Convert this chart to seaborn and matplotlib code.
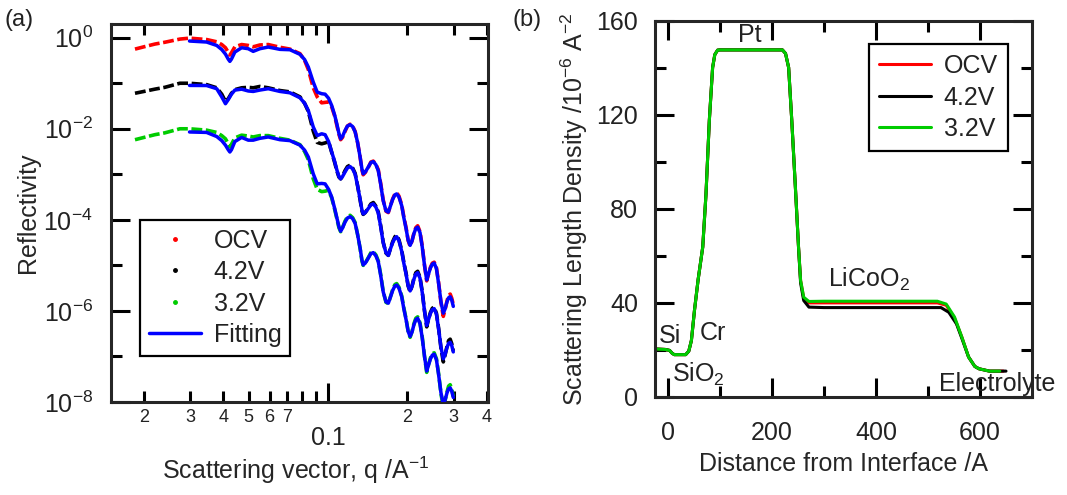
import numpy as np
import pandas as pd
import seaborn as sns
import matplotlib.pyplot as plt
from matplotlib.lines import Line2D
from matplotlib.ticker import FixedLocator, FixedFormatter, NullFormatter, LogFormatterSciNotation

# ---- (a) reflectivity (log10 R) ----
q_fit = [0.0298, 0.0346, 0.0378, 0.0395, 0.0408, 0.0418, 0.0424, 0.043, 0.0443, 0.047,
         0.0498, 0.052, 0.0551, 0.0593, 0.0657, 0.0717, 0.0783, 0.0815, 0.0842, 0.0879,
         0.091, 0.0946, 0.0975, 0.1005, 0.1033, 0.106, 0.108, 0.110, 0.1117, 0.1135,
         0.116, 0.1185, 0.1213, 0.124, 0.1268, 0.1295, 0.1324, 0.1345, 0.136, 0.1385,
         0.1422, 0.1455, 0.1486, 0.152, 0.1552, 0.1585, 0.162, 0.166, 0.1694, 0.173,
         0.176, 0.1795, 0.1823, 0.186, 0.1905, 0.194, 0.198, 0.2015, 0.205, 0.2085,
         0.212, 0.2155, 0.219, 0.2235, 0.228, 0.2325, 0.237, 0.241, 0.245, 0.249,
         0.253, 0.258, 0.263, 0.2685, 0.274, 0.2785, 0.283, 0.287, 0.291, 0.295, 0.299]
fit_ocv = [-0.073, -0.095, -0.17, -0.26, -0.36, -0.47, -0.52, -0.47, -0.315, -0.22,
           -0.242, -0.30, -0.242, -0.205, -0.256, -0.264, -0.366, -0.48, -0.645, -0.975,
           -1.195, -1.23, -1.24, -1.33, -1.49, -1.70, -1.89, -2.10, -2.22, -2.17,
           -2.04, -1.94, -1.91, -1.95, -2.07, -2.30, -2.62, -2.88, -2.99, -2.95,
           -2.84, -2.74, -2.72, -2.79, -2.92, -3.22, -3.58, -3.80, -3.83, -3.68,
           -3.55, -3.45, -3.43, -3.50, -3.69, -3.95, -4.20, -4.45, -4.56, -4.46,
           -4.30, -4.19, -4.16, -4.28, -4.60, -5.00, -5.32, -5.18, -5.05, -4.97,
           -4.95, -5.07, -5.40, -5.80, -6.05, -5.95, -5.80, -5.71, -5.69, -5.76, -5.90]
fit_42v = [-1.048, -1.05, -1.12, -1.30, -1.45, -1.36, -1.30, -1.24, -1.15, -1.13,
           -1.17, -1.18, -1.15, -1.12, -1.18, -1.21, -1.32, -1.44, -1.60, -1.96,
           -2.15, -2.11, -2.13, -2.28, -2.51, -2.72, -2.90, -3.05, -3.10, -3.05,
           -2.95, -2.86, -2.83, -2.88, -3.00, -3.25, -3.55, -3.78, -3.87, -3.84,
           -3.75, -3.67, -3.65, -3.72, -3.85, -4.15, -4.50, -4.72, -4.78, -4.62,
           -4.50, -4.40, -4.37, -4.46, -4.69, -4.95, -5.20, -5.45, -5.56, -5.46,
           -5.30, -5.19, -5.16, -5.28, -5.60, -6.00, -6.32, -6.18, -6.05, -5.97,
           -5.95, -6.07, -6.40, -6.80, -7.05, -6.95, -6.80, -6.71, -6.69, -6.76, -6.90]
fit_32v = [-2.07, -2.08, -2.17, -2.26, -2.36, -2.46, -2.51, -2.46, -2.28, -2.19,
           -2.25, -2.25, -2.21, -2.18, -2.24, -2.26, -2.36, -2.47, -2.62, -2.99,
           -3.21, -3.20, -3.21, -3.33, -3.50, -3.75, -3.95, -4.15, -4.25, -4.18,
           -4.05, -3.96, -3.93, -3.97, -4.08, -4.32, -4.62, -4.88, -4.99, -4.95,
           -4.84, -4.74, -4.72, -4.79, -4.92, -5.22, -5.58, -5.80, -5.83, -5.68,
           -5.55, -5.45, -5.43, -5.50, -5.69, -5.95, -6.20, -6.45, -6.56, -6.46,
           -6.30, -6.19, -6.16, -6.28, -6.60, -7.00, -7.32, -7.18, -7.05, -6.97,
           -6.95, -7.07, -7.40, -7.80, -8.05, -7.95, -7.80, -7.71, -7.69, -7.76, -7.90]

q_low = [0.0185, 0.020, 0.022, 0.024, 0.0274]
data_ocv = [-0.25, -0.20, -0.14, -0.10, -0.03,
            -0.01, -0.04, -0.09, -0.15, -0.22, -0.32, -0.38, -0.33, -0.20, -0.15,
            -0.17, -0.20, -0.16, -0.15, -0.21, -0.25, -0.35, -0.50, -0.70, -1.10,
            -1.30, -1.43, -1.42, -1.41, -1.52, -1.72, -1.92, -2.12, -2.24, -2.19,
            -2.06, -1.94, -1.90, -1.94, -2.06, -2.30, -2.62, -2.90, -3.01, -2.96,
            -2.85, -2.73, -2.71, -2.78, -2.90, -3.20, -3.56, -3.81, -3.84, -3.67,
            -3.54, -3.43, -3.40, -3.48, -3.67, -3.93, -4.18, -4.45, -4.58, -4.46,
            -4.29, -4.17, -4.13, -4.26, -4.58, -5.00, -5.34, -5.18, -5.04, -4.95,
            -4.93, -5.05, -5.38, -5.82, -6.12, -5.96, -5.78, -5.66, -5.63, -5.72, -5.86]
data_42v = [-1.22, -1.18, -1.13, -1.09, -1.00,
            -1.00, -1.03, -1.10, -1.24, -1.40, -1.34, -1.28, -1.22, -1.14, -1.10,
            -1.09, -1.10, -1.07, -1.10, -1.16, -1.19, -1.30, -1.44, -1.62, -2.05,
            -2.30, -2.33, -2.31, -2.28, -2.52, -2.74, -2.92, -3.06, -3.10, -3.04,
            -2.92, -2.83, -2.80, -2.86, -2.98, -3.25, -3.56, -3.80, -3.88, -3.84,
            -3.74, -3.65, -3.62, -3.70, -3.83, -4.13, -4.49, -4.73, -4.78, -4.61,
            -4.48, -4.37, -4.34, -4.44, -4.67, -4.93, -5.18, -5.45, -5.58, -5.45,
            -5.28, -5.16, -5.13, -5.26, -5.58, -6.00, -6.35, -6.17, -6.03, -5.94,
            -5.92, -6.05, -6.38, -6.82, -7.12, -6.96, -6.78, -6.65, -6.62, -6.72, -6.88]
data_32v = [-2.24, -2.19, -2.13, -2.09, -2.00,
            -2.00, -2.03, -2.08, -2.15, -2.22, -2.33, -2.40, -2.34, -2.20, -2.14,
            -2.16, -2.18, -2.15, -2.15, -2.21, -2.25, -2.35, -2.50, -2.68, -3.10,
            -3.33, -3.38, -3.37, -3.35, -3.52, -3.77, -3.97, -4.17, -4.26, -4.17,
            -4.03, -3.93, -3.90, -3.95, -4.06, -4.32, -4.63, -4.90, -5.00, -4.95,
            -4.83, -4.72, -4.70, -4.77, -4.90, -5.20, -5.57, -5.81, -5.84, -5.67,
            -5.53, -5.42, -5.40, -5.48, -5.67, -5.93, -6.18, -6.45, -6.58, -6.45,
            -6.28, -6.16, -6.13, -6.26, -6.58, -7.00, -7.35, -7.17, -7.03, -6.94,
            -6.92, -7.05, -7.38, -7.82, -8.12, -7.96, -7.78, -7.65, -7.62, -7.72, -7.88]
q_data = q_low + q_fit

# ---- (b) SLD profiles ----
z_ocv = [-25, -5, 3, 8, 12, 34, 40, 45, 51, 58, 66.8, 73, 79.5, 85.8, 90, 95.4, 100,
         220, 226, 232, 238, 245, 251, 255, 261, 271, 300, 518, 535, 551, 565, 578,
         590, 598, 618, 645]
sld_ocv = [20.4, 20.2, 19.8, 18.6, 18.0, 18.0, 19.5, 24, 37, 50, 63.7, 86, 117.6, 140,
           145.5, 147.4, 147.5, 147.5, 146, 140, 117.6, 89, 63.7, 49.5, 42, 40, 40,
           40, 39, 33.5, 25.5, 17, 13, 12, 11, 11]
z_42v = [-25, -5, 3, 8, 12, 34, 40, 45, 51, 58, 66.8, 73, 79.5, 85.8, 90, 95.4, 100,
         220, 226, 232, 238, 245, 251, 255, 261, 271, 300, 525, 540, 555, 565, 578,
         590, 598, 618, 650]
sld_42v = [20.4, 20.2, 19.8, 18.6, 18.0, 18.0, 19.5, 24, 37, 50, 63.7, 86, 117.6, 140,
           145.5, 147.4, 147.5, 147.5, 146, 140, 117.6, 89, 63.7, 48.5, 41, 38.2, 38,
           38, 36, 31, 25, 17, 13, 12, 11, 11]
z_32v = [-25, -5, 3, 8, 12, 34, 40, 45, 51, 58, 66.8, 73, 79.5, 85.8, 90, 95.4, 100,
         220, 226, 232, 238, 245, 251, 255, 261, 271, 300, 518, 535, 551, 565, 578,
         590, 598, 618, 638]
sld_32v = [20.4, 20.2, 19.8, 18.6, 18.0, 18.0, 19.5, 24, 37, 50, 63.7, 86, 117.6, 140,
           145.5, 147.4, 147.5, 147.5, 146, 140, 117.6, 89, 63.7, 49.5, 42.4, 40.6, 40.7,
           40.7, 39.5, 34, 25.5, 17, 13, 12, 11, 11]

labels = ["OCV", "4.2V", "3.2V"]
colors = ["#ff0000", "#000000", "#00cc00"]
fit_color = "#0000ff"

sns.set_style("ticks")
plt.rcParams['font.family'] = ['Liberation Sans', 'DejaVu Sans']
plt.rcParams['mathtext.fontset'] = 'custom'
plt.rcParams['mathtext.rm'] = 'Liberation Sans'
plt.rcParams['mathtext.it'] = 'Liberation Sans:italic'
plt.rcParams['mathtext.bf'] = 'Liberation Sans:bold'
plt.rcParams['axes.linewidth'] = 2.2
plt.rcParams['text.color'] = '#222222'

fig = plt.figure(figsize=(10.67, 4.95), dpi=100)
ax1 = fig.add_axes([111 / 1067, 1 - 402 / 495, 377 / 1067, 378 / 495])
ax2 = fig.add_axes([655 / 1067, 1 - 397 / 495, 377 / 1067, 376.5 / 495])

# (a)
for col, vals in zip(colors, [data_ocv, data_42v, data_32v]):
    sns.lineplot(x=q_data, y=10 ** np.array(vals), ax=ax1, color=col, lw=2.6,
                 linestyle=(0, (3, 1)), legend=False, zorder=2)
for vals in [fit_ocv, fit_42v, fit_32v]:
    sns.lineplot(x=q_fit, y=10 ** np.array(vals), ax=ax1, color=fit_color, lw=2.5,
                 legend=False, zorder=3)

ax1.set_xscale('log')
ax1.set_yscale('log')
ax1.set_xlim(0.015, 0.405)
ax1.set_ylim(1e-8, 2)
ax1.xaxis.set_major_locator(FixedLocator([0.1]))
ax1.xaxis.set_major_formatter(FixedFormatter(["0.1"]))
ax1.xaxis.set_minor_locator(FixedLocator([0.02, 0.03, 0.04, 0.05, 0.06, 0.07, 0.08, 0.09,
                                          0.2, 0.3, 0.4]))
ax1.xaxis.set_minor_formatter(FixedFormatter(["2", "3", "4", "5", "6", "7", "", "",
                                              "2", "3", "4"]))
ax1.yaxis.set_major_locator(FixedLocator([1e0, 1e-2, 1e-4, 1e-6, 1e-8]))
ax1.yaxis.set_major_formatter(LogFormatterSciNotation())
ax1.yaxis.set_minor_locator(FixedLocator([1e-1, 1e-3, 1e-5, 1e-7]))
ax1.yaxis.set_minor_formatter(NullFormatter())
ax1.tick_params(which='both', direction='in', top=True, right=True, width=2.2,
                colors='black', labelcolor='#222222')
ax1.tick_params(which='major', length=14, labelsize=18)
ax1.tick_params(which='minor', length=8)
ax1.tick_params(axis='x', which='minor', labelsize=13, pad=5)
ax1.tick_params(axis='x', which='major', pad=17)
ax1.tick_params(axis='y', which='major', pad=13)
ax1.set_xlabel("Scattering vector, q /A$^{-1}$", fontsize=18)
ax1.set_ylabel("Reflectivity", fontsize=18)
ax1.xaxis.set_label_coords(0.49, -0.14)
ax1.yaxis.set_label_coords(-0.188, 0.5)

handles = [Line2D([], [], color=c, marker='o', markersize=2.5, linestyle='None', label=l)
           for l, c in zip(labels, colors)]
handles.append(Line2D([], [], color=fit_color, lw=2.5, label="Fitting"))
leg1 = ax1.legend(handles=handles, loc='lower left', bbox_to_anchor=(0.077, 0.122),
                  borderaxespad=0, fontsize=18, frameon=True, fancybox=False,
                  handlelength=2.1, handletextpad=0.5, labelspacing=0.3, borderpad=0.35)
leg1.get_frame().set_edgecolor('black')
leg1.get_frame().set_linewidth(1.6)
leg1.get_frame().set_alpha(1)

# (b)
for lab, col, zz, ss in zip(labels, colors, [z_ocv, z_42v, z_32v], [sld_ocv, sld_42v, sld_32v]):
    sns.lineplot(x=zz, y=ss, ax=ax2, color=col, lw=2.2, label=lab, sort=False)
ax2.set_xlim(-25, 700)
ax2.set_ylim(0, 160)
ax2.xaxis.set_major_locator(FixedLocator([0, 200, 400, 600]))
ax2.xaxis.set_minor_locator(FixedLocator([100, 300, 500]))
ax2.yaxis.set_major_locator(FixedLocator([0, 40, 80, 120, 160]))
ax2.yaxis.set_minor_locator(FixedLocator([20, 60, 100, 140]))
ax2.tick_params(which='both', direction='in', top=True, right=True, width=2.2,
                colors='black', labelcolor='#222222')
ax2.tick_params(which='major', length=14, labelsize=18)
ax2.tick_params(which='minor', length=8)
ax2.tick_params(axis='x', which='major', pad=17)
ax2.tick_params(axis='y', which='major', pad=12)
ax2.set_xlabel("Distance from Interface /A", fontsize=18)
ax2.set_ylabel("Scattering Length Density /10$^{-6}$ A$^{-2}$", fontsize=18)
ax2.xaxis.set_label_coords(0.5, -0.145)
ax2.yaxis.set_label_coords(-0.172, 0.5)

ax2.text(135, 154, "Pt", fontsize=18, ha='left', va='center')
ax2.text(308, 50, "LiCoO$_2$", fontsize=18, ha='left', va='center')
ax2.text(-17, 26, "Si", fontsize=18, ha='left', va='center')
ax2.text(61, 27, "Cr", fontsize=18, ha='left', va='center')
ax2.text(8, 9.6, "SiO$_2$", fontsize=18, ha='left', va='center')
ax2.text(521, 5.7, "Electrolyte", fontsize=18, ha='left', va='center')

leg2 = ax2.legend(loc='upper right', bbox_to_anchor=(0.936, 0.937), borderaxespad=0,
                  fontsize=18, frameon=True, fancybox=False, handlelength=2.1,
                  handletextpad=0.5, labelspacing=0.3, borderpad=0.4)
leg2.get_frame().set_edgecolor('black')
leg2.get_frame().set_linewidth(1.6)
leg2.get_frame().set_alpha(1)

fig.text(5 / 1067, 1 - 20 / 495, "(a)", fontsize=17, ha='left', va='center')
fig.text(512 / 1067, 1 - 20 / 495, "(b)", fontsize=17, ha='left', va='center')

fig.savefig("out.png", dpi=100)
